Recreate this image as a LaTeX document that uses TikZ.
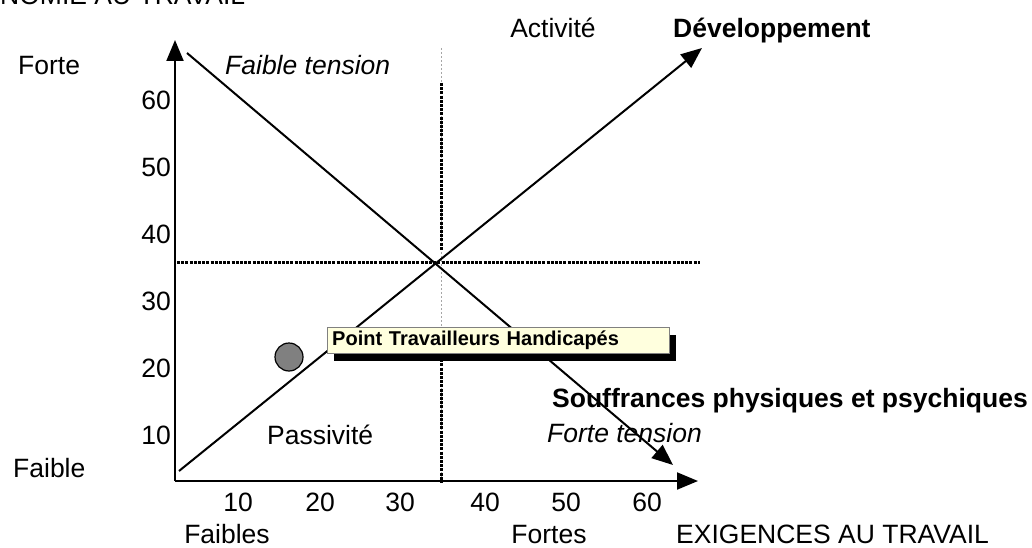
\documentclass[tikz,border=0pt]{standalone}
\usepackage{fontspec}
\setmainfont{Liberation Sans}
\usetikzlibrary{arrows.meta, shadows}
\definecolor{notepaper}{RGB}{255,255,222}
\definecolor{markgray}{RGB}{128,128,128}

\begin{document}
\begin{tikzpicture}[x=1pt, y=-1pt,
    txt/.style={font=\fontsize{26.5}{30}\selectfont, inner sep=0pt},
    arr/.style={line width=2pt, -{Triangle[length=21pt, width=17pt]}},
    guide/.style={line width=3pt, dash pattern=on 3pt off 1.2pt},
    faint/.style={line width=1pt, gray!70, dash pattern=on 2pt off 2pt}]
  \useasboundingbox (0,0) rectangle (1032,548);

  % axes and reference points
  \coordinate (O) at (175,481);
  \coordinate (ytop) at (175,40);
  \coordinate (xend) at (698,481);
  \coordinate (hstart) at (177,262);
  \coordinate (hend) at (700,262);
  \coordinate (vtop) at (441,48);
  \coordinate (vmid) at (441,83);
  \coordinate (vgap) at (441,250);
  \coordinate (vlow) at (441,355);
  \coordinate (vend) at (441,483);
  \coordinate (dstart) at (187,53);
  \coordinate (dend) at (673,465);
  \coordinate (astart) at (179,471);
  \coordinate (aend) at (702,48);

  % dotted guides
  \draw[faint] (vtop) -- (vend);
  \draw[guide] (vmid) -- (vgap);
  \draw[guide] (vlow) -- (vend);
  \draw[guide] (hstart) -- (hend);

  % diagonals
  \draw[arr] (dstart) -- (dend);
  \draw[arr] (astart) -- (aend);

  % axes
  \draw[arr] (O) -- (ytop);
  \draw[arr] (O) -- (xend);

  % marker and its note
  \node[circle, draw, fill=markgray, line width=1.2pt, minimum size=28pt, inner sep=0pt] (workers) at (289,357) {};
  \node[draw=gray, fill=notepaper, anchor=west, text width=332pt, minimum height=26pt,
        inner xsep=5pt, inner ysep=0pt, font=\fontsize{20}{24}\selectfont\bfseries,
        drop shadow={shadow xshift=7pt, shadow yshift=-7pt, fill=black, opacity=1}]
        (note) at (327,340.5) {Point Travailleurs Handicapés};

  % y labels
  \node[txt, anchor=base west] (ytitle) at (0,5) {NOMIE AU TRAVAIL};
  \node[txt, anchor=base west] (yhigh) at (18,74.5) {Forte};
  \node[txt, anchor=base west] (ylow) at (13,477) {Faible};
  \foreach \v/\y in {60/100, 50/167, 40/234, 30/301, 20/368, 10/435}
    \node[txt, anchor=base east] (y\v) at (171,\y+9.5) {\v};

  % x labels
  \foreach \v/\x in {10/238, 20/320, 30/400, 40/485, 50/566, 60/647}
    \node[txt, anchor=base] (x\v) at (\x,511.5) {\v};
  \node[txt, anchor=base] (xlow) at (227,543) {Faibles};
  \node[txt, anchor=base] (xhigh) at (549,543) {Fortes};
  \node[txt, anchor=base west] (xtitle) at (676,543) {EXIGENCES AU TRAVAIL};

  % quadrants
  \node[txt, anchor=base west, font=\fontsize{26.5}{30}\selectfont\itshape] (lowstrain) at (225,74.5) {Faible tension};
  \node[txt, anchor=base] (active) at (553,38) {Activité};
  \node[txt, anchor=base west, font=\fontsize{26.5}{30}\selectfont\bfseries] (growth) at (673,38) {Développement};
  \node[txt, anchor=base west] (passive) at (267,444) {Passivité};
  \node[txt, anchor=base east, font=\fontsize{26.5}{30}\selectfont\bfseries] (strain) at (1028,407) {Souffrances physiques et psychiques};
  \node[txt, anchor=base east, font=\fontsize{26.5}{30}\selectfont\itshape] (highstrain) at (702,442.5) {Forte tension};
\end{tikzpicture}
\end{document}
